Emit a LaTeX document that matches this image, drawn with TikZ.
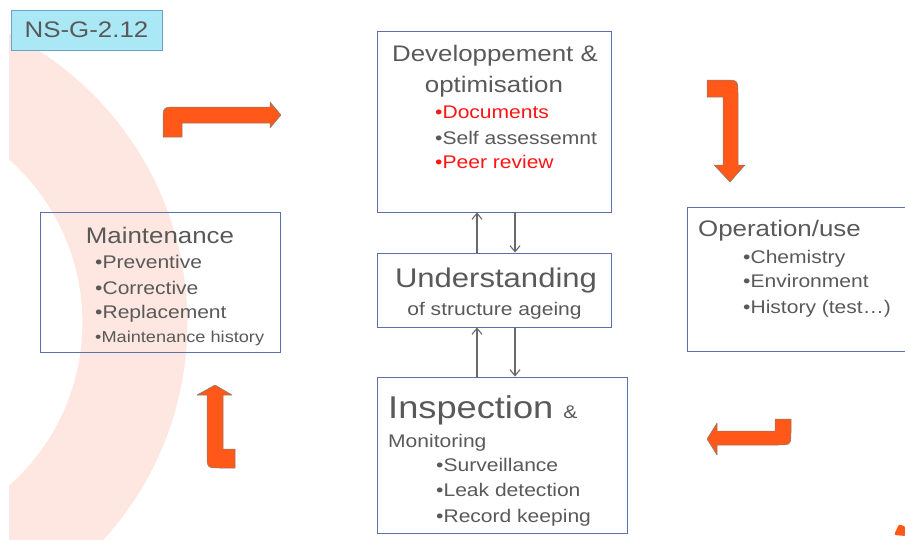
\documentclass[tikz,border=0pt]{standalone}
\usepackage{fontspec}
\setmainfont[FakeStretch=1.15]{Liberation Sans}
\usetikzlibrary{arrows.meta}

\definecolor{txtgray}{RGB}{89,89,89}
\definecolor{boxline}{RGB}{92,112,172}
\definecolor{tagfill}{RGB}{170,232,245}
\definecolor{tagline}{RGB}{110,160,200}
\definecolor{bandpink}{RGB}{253,231,224}
\definecolor{flow}{RGB}{255,88,24}
\definecolor{flowedge}{RGB}{125,125,125}
\definecolor{linkgray}{RGB}{105,105,105}
\definecolor{hot}{RGB}{255,20,20}

\tikzset{
  panel/.style={draw=boxline, line width=0.9pt},
  tag/.style={draw=tagline, line width=0.9pt, fill=tagfill, text=txtgray,
              font=\fontsize{22.5}{27}\selectfont},
  ttl/.style={text=txtgray, inner sep=0pt, font=\fontsize{22.5}{27}\selectfont},
  bigttl/.style={text=txtgray, inner sep=0pt, font=\fontsize{27}{32}\selectfont},
  bul/.style={text=txtgray, inner sep=0pt, anchor=base west, font=\fontsize{18.3}{22}\selectfont},
  smallbul/.style={bul, font=\fontsize{15.8}{19}\selectfont},
  link/.style={draw=linkgray, line width=1.1pt,
               -{Straight Barb[length=6pt,width=10pt,line width=1.1pt]}},
  bent/.style={fill=flow, draw=flowedge, line width=0.5pt, line join=round}
}

\begin{document}
\begin{tikzpicture}[x=1pt,y=-1pt]
\useasboundingbox (0,0) rectangle (905,539);
\clip (0,0) rectangle (905,539);

% soft background ring
\begin{scope}
  \clip (9,0) rectangle (905,539);
  \fill[bandpink, even odd rule] (-135.6,322.6) circle [radius=323pt]
                                 (-135.6,322.6) circle [radius=218pt];
\end{scope}

% boxes
\node[tag, minimum width=151pt, minimum height=40pt] (ns) at (86.5,30) {NS-G-2.12};
\node[panel, minimum width=234pt, minimum height=181pt] (dev) at (494,121.5) {};
\node[panel, minimum width=234pt, minimum height=74pt] (und) at (494,290) {};
\node[panel, minimum width=250pt, minimum height=156pt] (insp) at (502,455) {};
\node[panel, minimum width=240pt, minimum height=140pt] (maint) at (160,282) {};
\node[panel, minimum width=238pt, minimum height=144pt] (oper) at (806,279) {};

% development box
\node[ttl, anchor=base] (devt1) at (495,61) {Developpement \&};
\node[ttl, anchor=base] (devt2) at (494,92) {optimisation};
\node[bul, text=hot] (devb1) at (435,118) {•Documents};
\node[bul] (devb2) at (435,144) {•Self assessemnt};
\node[bul, text=hot] (devb3) at (435,168) {•Peer review};

% understanding box
\node[bigttl, anchor=base] (undt1) at (496,287) {Understanding};
\node[bul, anchor=base] (undt2) at (494.5,315) {of structure ageing};

% inspection box
\node[text=txtgray, inner sep=0pt, anchor=base west, font=\fontsize{31.5}{36}\selectfont]
  (inspt1) at (388,418) {Inspection {\fontsize{18.3}{22}\selectfont\&}};
\node[bul] (inspt2) at (388,447) {Monitoring};
\node[bul] (inspb1) at (436,471) {•Surveillance};
\node[bul] (inspb2) at (436,496) {•Leak detection};
\node[bul] (inspb3) at (436,522) {•Record keeping};

% maintenance box
\node[ttl, anchor=base] (maintt) at (160,243) {Maintenance};
\node[bul] (maintb1) at (95,268) {•Preventive};
\node[bul] (maintb2) at (95,294) {•Corrective};
\node[bul] (maintb3) at (95,318) {•Replacement};
\node[smallbul] (maintb4) at (95,342) {•Maintenance history};

% operation box
\node[ttl, anchor=base west] (opert) at (698,236) {Operation/use};
\node[bul] (operb1) at (743,263) {•Chemistry};
\node[bul] (operb2) at (743,287) {•Environment};
\node[bul] (operb3) at (743,313) {•History (test…)};

% exchanges along the central column
\draw[link] ([xshift=-17pt]und.north) -- ([xshift=-17pt]dev.south);
\draw[link] ([xshift=21pt]dev.south) -- ([xshift=21pt]und.north);
\draw[link] ([xshift=-25pt]insp.north) -- ([xshift=-17pt]und.south);
\draw[link] ([xshift=21pt]und.south) -- ([xshift=13pt]insp.north);

% bent cycle arrows
\draw[bent] (163,137) -- (163,121) .. controls (163,107) .. (177,107) -- (270,107)
  -- (270,102) -- (281,115) -- (270,128) -- (270,123) -- (182,123) -- (182,137) -- cycle;
\draw[bent] (707,80) -- (724,80) .. controls (738,80) .. (738,94) -- (738,165)
  -- (745,165) -- (730,182) -- (714,165) -- (723,165) -- (723,97) -- (707,97) -- cycle;
\draw[bent] (791,419) -- (791,431) .. controls (791,445) .. (777,445) -- (717,445)
  -- (717,455) -- (707,439) -- (717,423) -- (717,431) -- (775,431) -- (775,419) -- cycle;
\draw[bent] (215,385) -- (232,395) -- (223,395) -- (223,449) -- (235,449) -- (235,468)
  -- (221,468) .. controls (207,468) .. (207,454) -- (207,395) -- (197,395) -- cycle;

% corner mark
\fill[flow, rounded corners=2pt] (894,535) -- (899,524) -- (906,527) -- (906,536) -- cycle;
\end{tikzpicture}
\end{document}
